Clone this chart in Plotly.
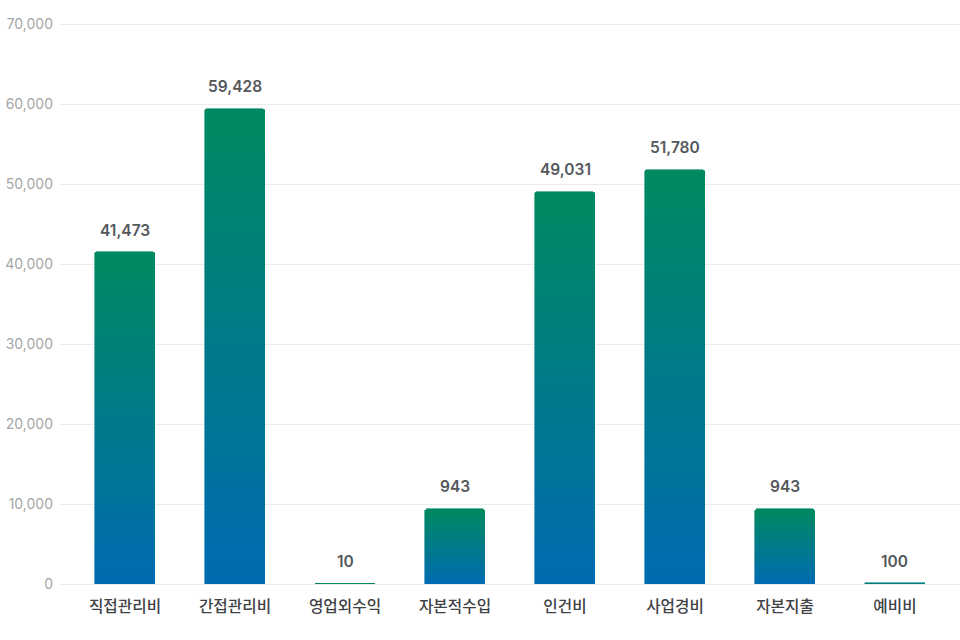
import plotly.graph_objects as go

categories = ["직접관리비", "간접관리비", "영업외수익", "자본적수입", "인건비", "사업경비", "자본지출", "예비비"]
# bar heights as drawn in the picture
values = [41473, 59428, 10, 9400, 49031, 51780, 9400, 100]
# value labels as printed above the bars
value_labels = ["41,473", "59,428", "10", "943", "49,031", "51,780", "943", "100"]
y_ticks = [0, 10000, 20000, 30000, 40000, 50000, 60000, 70000]
y_tick_labels = ["0", "10,000", "20,000", "30,000", "40,000", "50,000", "60,000", "70,000"]

TOP = (0, 137, 96)      # green at bar top
BOTTOM = (0, 107, 178)  # blue at bar bottom
N_SEG = 60

def mix(t):
    r = [round(BOTTOM[k] + (TOP[k] - BOTTOM[k]) * t) for k in range(3)]
    return f"rgb({r[0]},{r[1]},{r[2]})"

fig = go.Figure()
for i in range(N_SEG):
    t = (i + 0.5) / N_SEG
    fig.add_trace(go.Bar(
        x=categories,
        y=[v / N_SEG for v in values],
        width=0.545,
        marker=dict(color=mix(t), line=dict(width=0.6, color=mix(t))),
        hoverinfo="skip",
        showlegend=False,
    ))

for c, v, lab in zip(categories, values, value_labels):
    fig.add_annotation(
        x=c, y=v, text=lab, showarrow=False,
        yanchor="middle", yshift=22,
        font=dict(family="Inter, Noto Sans CJK KR", size=15.5, color="#54585c", weight=600),
    )

fig.update_layout(
    width=960, height=640,
    margin=dict(l=60, r=0, t=20, b=56),
    paper_bgcolor="white", plot_bgcolor="white",
    barmode="stack", bargap=0,
    barcornerradius=3,
    font=dict(family="Inter, Noto Sans CJK KR"),
    xaxis=dict(
        range=[-0.591, 7.591],
        showgrid=False, showline=False, zeroline=False,
        ticks="", ticklabelstandoff=11,
        tickfont=dict(family="Noto Sans CJK KR", size=15.7, color="#3f4246", weight=500),
    ),
    yaxis=dict(
        range=[0, 70500],
        tickvals=y_ticks, ticktext=y_tick_labels,
        showgrid=True, gridcolor="#ebebeb", gridwidth=1,
        zeroline=True, zerolinecolor="#ebebeb", zerolinewidth=1,
        showline=False, ticks="", ticklabelstandoff=6,
        tickfont=dict(family="Inter", size=14, color="#a6a6a6"),
    ),
)

fig.write_html("out.html")
